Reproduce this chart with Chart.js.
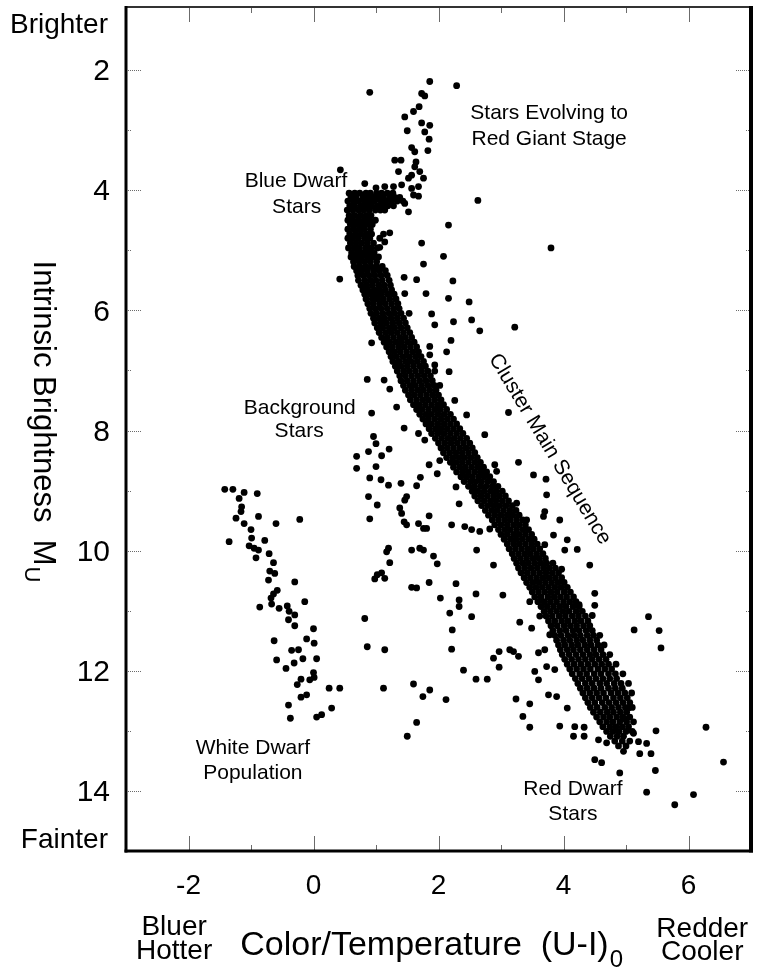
<!DOCTYPE html>
<html lang="en">
<head>
<meta charset="UTF-8">
<title>Cluster colour-magnitude diagram</title>
<script src="https://cdn.jsdelivr.net/npm/chart.js"></script>
<style>
  html, body { margin: 0; padding: 0; background: #fff; }
  #hr { display: block; }
</style>
</head>
<body>
<canvas id="hr" width="764" height="969"></canvas>
<script>
// values: x = colour (U-I)0, y = intrinsic brightness M_U
const xTickValues = [-2, 0, 2, 4, 6];
const yTickValues = [2, 4, 6, 8, 10, 12, 14];
const xMinorTicks = [-1, 1, 3, 5];
const yMinorTicks = [3, 5, 7, 9, 11, 13];

// the dense cluster main sequence, one row of colours per magnitude step
const mainSequenceRows = [
  [4.05, [0.57, 0.66, 0.74, 0.84, 0.91, 1.01, 1.09, 1.18, 1.27]],
  [4.12, [0.60, 0.68, 0.79, 0.87, 0.96, 1.05, 1.12, 1.22, 1.30, 1.38]],
  [4.18, [0.55, 0.64, 0.72, 0.81, 0.90, 0.98, 1.08, 1.16, 1.25, 1.34, 1.43]],
  [4.26, [0.58, 0.66, 0.76, 0.85, 0.93, 1.02, 1.11, 1.19, 1.28]],
  [4.33, [0.54, 0.63, 0.72, 0.80, 0.89, 0.99, 1.07, 1.14]],
  [4.42, [0.57, 0.66, 0.75, 0.84, 0.92]],
  [4.50, [0.55, 0.63, 0.72, 0.81, 0.90, 0.99]],
  [4.57, [0.59, 0.68, 0.77, 0.86, 0.94]],
  [4.65, [0.55, 0.64, 0.73, 0.81, 0.91]],
  [4.73, [0.58, 0.67, 0.76, 0.85, 0.93, 1.12]],
  [4.80, [0.55, 0.63, 0.72, 0.82, 0.90, 1.06]],
  [4.88, [0.59, 0.68, 0.77, 0.86, 0.96]],
  [4.96, [0.56, 0.65, 0.73, 0.83, 0.92, 1.02]],
  [5.04, [0.61, 0.70, 0.79, 0.88, 0.97]],
  [5.11, [0.60, 0.68, 0.77, 0.86, 0.95, 1.04]],
  [5.19, [0.64, 0.73, 0.82, 0.91, 1.01]],
  [5.27, [0.65, 0.74, 0.83, 0.92, 1.01, 1.10]],
  [5.34, [0.69, 0.77, 0.86, 0.96, 1.05, 1.15]],
  [5.42, [0.71, 0.80, 0.89, 0.98, 1.08, 1.18]],
  [5.50, [0.72, 0.82, 0.91, 1.00, 1.10, 1.21]],
  [5.58, [0.76, 0.85, 0.94, 1.04, 1.13, 1.23]],
  [5.66, [0.79, 0.87, 0.97, 1.06, 1.15, 1.25]],
  [5.73, [0.82, 0.91, 1.00, 1.09, 1.19, 1.29]],
  [5.81, [0.84, 0.94, 1.03, 1.12, 1.22, 1.32]],
  [5.89, [0.87, 0.96, 1.06, 1.15, 1.25, 1.35]],
  [5.97, [0.90, 0.99, 1.08, 1.18, 1.28, 1.37]],
  [6.05, [0.92, 1.01, 1.11, 1.21, 1.30, 1.40]],
  [6.13, [0.96, 1.05, 1.14, 1.24, 1.34, 1.44]],
  [6.21, [0.98, 1.08, 1.17, 1.27, 1.37, 1.47]],
  [6.29, [1.02, 1.11, 1.21, 1.30, 1.40, 1.50]],
  [6.37, [1.05, 1.15, 1.24, 1.34, 1.44, 1.54]],
  [6.45, [1.09, 1.18, 1.28, 1.38, 1.47, 1.57]],
  [6.53, [1.13, 1.22, 1.32, 1.41, 1.51, 1.61]],
  [6.61, [1.17, 1.26, 1.36, 1.45, 1.55, 1.65]],
  [6.69, [1.21, 1.30, 1.39, 1.49, 1.59, 1.68]],
  [6.77, [1.24, 1.33, 1.43, 1.53, 1.63, 1.72]],
  [6.85, [1.27, 1.37, 1.47, 1.56, 1.66, 1.76]],
  [6.93, [1.31, 1.40, 1.50, 1.60, 1.70, 1.79]],
  [7.01, [1.34, 1.44, 1.53, 1.63, 1.73, 1.83, 1.94]],
  [7.09, [1.38, 1.47, 1.57, 1.67, 1.77, 1.87]],
  [7.17, [1.40, 1.50, 1.60, 1.70, 1.80, 1.90]],
  [7.25, [1.44, 1.54, 1.63, 1.73, 1.83, 1.93, 2.02]],
  [7.33, [1.47, 1.57, 1.67, 1.76, 1.86, 1.96]],
  [7.41, [1.52, 1.61, 1.71, 1.81, 1.91, 2.00]],
  [7.49, [1.55, 1.65, 1.75, 1.84, 1.94, 2.04]],
  [7.57, [1.60, 1.69, 1.79, 1.89, 1.99, 2.08]],
  [7.65, [1.65, 1.74, 1.84, 1.94, 2.03, 2.13]],
  [7.73, [1.70, 1.80, 1.89, 1.99, 2.09, 2.19]],
  [7.81, [1.75, 1.84, 1.94, 2.04, 2.14, 2.24]],
  [7.89, [1.80, 1.89, 1.99, 2.09, 2.19, 2.29]],
  [7.97, [1.85, 1.95, 2.04, 2.14, 2.24, 2.34]],
  [8.05, [1.89, 1.99, 2.09, 2.19, 2.29, 2.39]],
  [8.13, [1.95, 2.05, 2.15, 2.25, 2.35, 2.45]],
  [8.21, [2.00, 2.10, 2.20, 2.30, 2.40, 2.50]],
  [8.29, [2.04, 2.14, 2.24, 2.34, 2.44, 2.54]],
  [8.37, [2.08, 2.18, 2.28, 2.38, 2.48, 2.58]],
  [8.45, [2.13, 2.23, 2.33, 2.42, 2.52, 2.62]],
  [8.53, [2.19, 2.28, 2.38, 2.48, 2.58, 2.67]],
  [8.61, [2.24, 2.34, 2.43, 2.53, 2.63, 2.72]],
  [8.69, [2.29, 2.39, 2.48, 2.58, 2.68, 2.77]],
  [8.77, [2.36, 2.45, 2.54, 2.64, 2.73, 2.82]],
  [8.85, [2.41, 2.51, 2.60, 2.69, 2.79, 2.88]],
  [8.93, [2.48, 2.57, 2.67, 2.76, 2.86, 2.95]],
  [9.01, [2.54, 2.63, 2.73, 2.83, 2.92, 3.02]],
  [9.09, [2.58, 2.68, 2.78, 2.88, 2.97, 3.07]],
  [9.17, [2.63, 2.73, 2.83, 2.92, 3.02, 3.12]],
  [9.25, [2.69, 2.79, 2.89, 2.98, 3.08, 3.18]],
  [9.33, [2.75, 2.85, 2.94, 3.04, 3.14, 3.24]],
  [9.41, [2.80, 2.90, 3.00, 3.10, 3.19, 3.29]],
  [9.49, [2.86, 2.96, 3.06, 3.15, 3.25, 3.35]],
  [9.57, [2.90, 3.00, 3.10, 3.20, 3.29, 3.39]],
  [9.65, [2.96, 3.06, 3.15, 3.25, 3.35, 3.44]],
  [9.73, [3.00, 3.10, 3.20, 3.29, 3.39, 3.49]],
  [9.81, [3.05, 3.15, 3.24, 3.34, 3.44, 3.53]],
  [9.89, [3.10, 3.20, 3.29, 3.39, 3.49, 3.58]],
  [9.97, [3.13, 3.23, 3.33, 3.43, 3.52, 3.62]],
  [10.05, [3.18, 3.28, 3.38, 3.47, 3.57, 3.67]],
  [10.13, [3.21, 3.31, 3.41, 3.51, 3.61, 3.71]],
  [10.21, [3.25, 3.35, 3.44, 3.54, 3.64, 3.73, 3.83]],
  [10.29, [3.28, 3.38, 3.48, 3.58, 3.68, 3.77, 3.87]],
  [10.37, [3.32, 3.42, 3.52, 3.62, 3.72, 3.82, 3.92]],
  [10.45, [3.37, 3.47, 3.57, 3.67, 3.77, 3.87, 3.97]],
  [10.53, [3.41, 3.51, 3.61, 3.71, 3.81, 3.91, 4.01]],
  [10.61, [3.46, 3.56, 3.66, 3.76, 3.86, 3.96, 4.06]],
  [10.69, [3.50, 3.60, 3.70, 3.80, 3.90, 4.01, 4.11]],
  [10.77, [3.54, 3.64, 3.75, 3.85, 3.95, 4.05, 4.16]],
  [10.85, [3.59, 3.69, 3.79, 3.89, 4.00, 4.10, 4.20]],
  [10.93, [3.64, 3.74, 3.84, 3.94, 4.04, 4.15, 4.25]],
  [11.01, [3.69, 3.79, 3.89, 3.99, 4.09, 4.20, 4.30]],
  [11.09, [3.72, 3.82, 3.93, 4.03, 4.14, 4.24, 4.35]],
  [11.17, [3.76, 3.86, 3.97, 4.07, 4.18, 4.28, 4.39]],
  [11.25, [3.80, 3.90, 4.01, 4.11, 4.21, 4.32, 4.42]],
  [11.33, [3.83, 3.94, 4.04, 4.15, 4.25, 4.36, 4.46]],
  [11.41, [3.86, 3.96, 4.07, 4.17, 4.27, 4.38, 4.48, 4.58]],
  [11.49, [3.89, 4.00, 4.10, 4.21, 4.31, 4.42, 4.53]],
  [11.57, [3.92, 4.02, 4.13, 4.23, 4.34, 4.44, 4.55, 4.65]],
  [11.65, [3.95, 4.06, 4.16, 4.27, 4.38, 4.49, 4.60]],
  [11.73, [3.98, 4.09, 4.20, 4.31, 4.42, 4.52, 4.63, 4.74]],
  [11.81, [4.02, 4.13, 4.24, 4.35, 4.46, 4.57, 4.68]],
  [11.89, [4.06, 4.17, 4.28, 4.39, 4.50, 4.61, 4.72, 4.84]],
  [11.97, [4.10, 4.21, 4.32, 4.43, 4.55, 4.66, 4.77]],
  [12.05, [4.14, 4.26, 4.37, 4.49, 4.60, 4.72, 4.83, 4.95]],
  [12.13, [4.19, 4.30, 4.41, 4.52, 4.63, 4.74, 4.85]],
  [12.21, [4.23, 4.35, 4.46, 4.58, 4.69, 4.81, 4.92, 5.04]],
  [12.29, [4.27, 4.38, 4.49, 4.60, 4.72, 4.83, 4.94]],
  [12.37, [4.31, 4.42, 4.53, 4.64, 4.76, 4.87, 4.98, 5.09]],
  [12.45, [4.35, 4.46, 4.57, 4.68, 4.80, 4.91, 5.02]],
  [12.53, [4.39, 4.50, 4.62, 4.73, 4.84, 4.95, 5.06]],
  [12.61, [4.43, 4.54, 4.66, 4.77, 4.88, 4.99, 5.10]],
  [12.69, [4.48, 4.59, 4.70, 4.80, 4.91, 5.01]],
  [12.77, [4.53, 4.64, 4.74, 4.85, 4.95, 5.06]],
  [12.85, [4.58, 4.69, 4.79, 4.90, 5.01, 5.12]],
  [12.93, [4.63, 4.74, 4.84, 4.94, 5.04]],
  [13.01, [4.69, 4.79, 4.89, 5.00, 5.10]],
  [13.09, [4.75, 4.86, 4.96]],
  [13.17, [4.82, 4.94, 5.06]],
  [13.25, [4.88, 5.00]]
];

// turn-off hook and stars evolving towards the red giant stage
const giantBranch = [
  [1.86, 2.19], [1.73, 2.39], [1.78, 2.43], [1.69, 2.61], [1.60, 2.69], [1.46, 2.78],
  [1.73, 2.88], [1.86, 2.92], [1.50, 3.01], [1.78, 3.03], [1.85, 3.15], [1.57, 3.29],
  [1.83, 3.34], [1.62, 3.36], [1.30, 3.50], [1.40, 3.50], [1.64, 3.53], [1.62, 3.61],
  [1.36, 3.69], [1.70, 3.69], [1.57, 3.75], [1.52, 3.80], [1.76, 3.80], [0.82, 3.89],
  [1.41, 3.91], [1.00, 3.96], [1.14, 3.94], [1.28, 3.94], [1.68, 3.94], [1.57, 3.97],
  [1.60, 4.08], [1.68, 4.10], [1.46, 4.22], [1.52, 4.36], [1.22, 4.71], [1.14, 4.86],
  [1.06, 4.95]
];

// scattered background (field) stars
const fieldStars = [
  [0.90, 2.37], [2.29, 2.26], [0.43, 3.66], [2.63, 4.17], [3.80, 4.96], [2.16, 4.58],
  [1.73, 4.88], [2.08, 5.10], [1.76, 5.23], [0.42, 5.48], [1.45, 5.45], [1.65, 5.49],
  [2.23, 5.51], [1.46, 5.72], [1.80, 5.72], [2.16, 5.80], [2.49, 5.86], [1.53, 6.05],
  [1.89, 6.06], [2.53, 6.16], [2.24, 6.19], [1.94, 6.24], [3.22, 6.28], [2.66, 6.34],
  [2.20, 6.50], [0.93, 6.54], [1.86, 6.60], [2.13, 6.69], [1.86, 6.74], [1.94, 6.91],
  [2.17, 7.02], [0.86, 7.15], [1.13, 7.16], [1.22, 7.31], [2.26, 7.50], [1.33, 7.61],
  [3.12, 7.70], [0.93, 7.71], [2.45, 7.74], [1.45, 7.96], [1.68, 8.05], [2.74, 8.07],
  [0.96, 8.10], [1.78, 8.16], [1.00, 8.22], [1.21, 8.31], [0.88, 8.35], [1.09, 8.42],
  [0.69, 8.43], [2.02, 8.50], [3.28, 8.53], [1.85, 8.57], [2.90, 8.57], [1.00, 8.60],
  [0.69, 8.63], [2.93, 8.68], [1.98, 8.72], [3.52, 8.74], [1.71, 8.78], [0.90, 8.79],
  [3.72, 8.81], [1.08, 8.82], [1.40, 8.88], [1.20, 8.91], [1.65, 8.92], [2.28, 8.94],
  [3.73, 9.07], [0.88, 9.10], [1.49, 9.10], [1.46, 9.16], [3.25, 9.21], [2.33, 9.22],
  [1.02, 9.24], [1.38, 9.29], [3.70, 9.35], [1.41, 9.38], [1.85, 9.42], [3.68, 9.43],
  [0.90, 9.47], [3.41, 9.49], [3.94, 9.49], [1.45, 9.52], [1.68, 9.55], [1.49, 9.57],
  [2.21, 9.57], [2.42, 9.60], [1.76, 9.63], [1.81, 9.63], [2.82, 9.64], [2.53, 9.65],
  [2.66, 9.68], [3.84, 9.74], [4.06, 9.82], [3.70, 9.90], [1.20, 9.96], [1.70, 9.96],
  [4.22, 9.98], [1.57, 9.99], [1.76, 9.99], [2.61, 9.99], [4.02, 9.99], [1.17, 10.02],
  [1.92, 10.09], [1.22, 10.20], [1.98, 10.22], [2.88, 10.24], [4.42, 10.24], [3.97, 10.31],
  [1.09, 10.37], [1.02, 10.40], [1.14, 10.46], [0.98, 10.47], [1.85, 10.53], [2.28, 10.55],
  [1.57, 10.61], [1.65, 10.62], [4.50, 10.71], [2.60, 10.72], [3.03, 10.74], [2.03, 10.79],
  [2.33, 10.82], [3.46, 10.85], [4.25, 10.90], [4.50, 10.91], [2.33, 10.93], [2.18, 11.04],
  [4.46, 11.08], [3.62, 11.09], [2.53, 11.10], [5.36, 11.10], [0.82, 11.13], [3.30, 11.19],
  [3.49, 11.29], [5.13, 11.32], [2.22, 11.32], [5.53, 11.33], [3.78, 11.40], [0.86, 11.60],
  [5.56, 11.62], [2.21, 11.64], [1.14, 11.65], [3.14, 11.65], [3.70, 11.65], [3.20, 11.68],
  [2.97, 11.68], [3.60, 11.70], [3.28, 11.76], [2.88, 11.79], [3.73, 11.93], [2.97, 11.94],
  [3.86, 11.98], [2.40, 11.99], [3.54, 12.01], [2.60, 12.14], [2.78, 12.14], [3.60, 12.15],
  [1.60, 12.22], [1.12, 12.29], [1.86, 12.32], [3.76, 12.40], [1.75, 12.43], [3.89, 12.43],
  [3.24, 12.47], [2.12, 12.48], [3.46, 12.55], [4.06, 12.62], [5.04, 12.62], [3.35, 12.76],
  [4.98, 12.80], [1.65, 12.86], [3.94, 12.92], [4.18, 12.93], [3.46, 12.94], [4.33, 12.94],
  [6.28, 12.94], [5.48, 13.00], [5.12, 13.04], [1.50, 13.09], [4.16, 13.09], [4.33, 13.09],
  [4.56, 13.15], [5.20, 13.18], [4.69, 13.20], [5.33, 13.21], [4.96, 13.34], [5.22, 13.38],
  [5.40, 13.38], [4.50, 13.48], [6.56, 13.52], [4.61, 13.53], [5.47, 13.66], [4.90, 13.70],
  [5.33, 14.02], [6.08, 14.06], [5.78, 14.23]
];

// white dwarf population on the blue side
const whiteDwarfs = [
  [-1.42, 8.98], [-1.29, 8.98], [-1.11, 9.03], [-0.90, 9.05], [-1.19, 9.13], [-1.15, 9.27],
  [-1.16, 9.35], [-0.88, 9.43], [-1.24, 9.46], [-0.22, 9.48], [-1.11, 9.55], [-0.60, 9.55],
  [-1.00, 9.65], [-0.99, 9.79], [-0.78, 9.83], [-1.35, 9.85], [-1.03, 9.92], [-0.95, 9.96],
  [-0.88, 9.99], [-0.71, 10.05], [-0.92, 10.12], [-0.64, 10.20], [-0.70, 10.34], [-0.62, 10.38],
  [-0.72, 10.49], [-0.30, 10.52], [-0.58, 10.66], [-0.64, 10.72], [-0.68, 10.79], [-0.14, 10.85],
  [-0.67, 10.89], [-0.42, 10.92], [-0.86, 10.94], [-0.55, 10.96], [-0.39, 11.01], [-0.30, 11.07],
  [-0.40, 11.15], [-0.30, 11.25], [0.00, 11.30], [-0.11, 11.47], [-0.63, 11.50], [0.01, 11.54],
  [-0.24, 11.65], [-0.35, 11.66], [-0.17, 11.80], [0.05, 11.80], [-0.59, 11.82], [-0.31, 11.87],
  [-0.44, 11.96], [0.00, 12.03], [0.01, 12.11], [-0.20, 12.14], [-0.06, 12.15], [-0.26, 12.23],
  [0.25, 12.29], [0.42, 12.29], [-0.11, 12.40], [-0.20, 12.44], [-0.40, 12.57], [0.29, 12.62],
  [0.13, 12.73], [0.05, 12.77], [-0.37, 12.79]
];

// labels placed in data coordinates
const notes = [
  { text: 'Stars Evolving to', x: 3.77, y: 2.71 },
  { text: 'Red Giant Stage', x: 3.77, y: 3.15 },
  { text: 'Blue Dwarf', x: -0.28, y: 3.85 },
  { text: 'Stars', x: -0.27, y: 4.29 },
  { text: 'Background', x: -0.22, y: 7.63 },
  { text: 'Stars', x: -0.23, y: 8.01 },
  { text: 'White Dwarf', x: -0.97, y: 13.29 },
  { text: 'Population', x: -0.97, y: 13.70 },
  { text: 'Red Dwarf', x: 4.15, y: 13.97 },
  { text: 'Stars', x: 4.15, y: 14.38 },
  { text: 'Cluster Main Sequence', x: 3.78, y: 8.31, angle: 59 }
];

const FONT = "'Liberation Sans', Arial, Helvetica, sans-serif";
Chart.defaults.font.family = FONT;
Chart.defaults.color = '#000';

const toPoints = list => list.map(([x, y]) => ({ x, y }));
const mainSequence = [];
mainSequenceRows.forEach(([y, xs]) => xs.forEach(x => mainSequence.push({ x, y })));

// frame, inward ticks and all the text around the plot
const decorations = {
  id: 'decorations',
  afterDraw(chart) {
    const { ctx, chartArea: a, scales: { x, y } } = chart;
    ctx.save();

    const seg = (x1, y1, x2, y2) => { ctx.beginPath(); ctx.moveTo(x1, y1); ctx.lineTo(x2, y2); ctx.stroke(); };
    ctx.strokeStyle = '#6b6b6b';
    ctx.lineWidth = 1;
    const xt = (v, len) => {
      const p = Math.round(x.getPixelForValue(v)) + 0.5;
      seg(p, a.bottom, p, a.bottom - len);
      seg(p, a.top, p, a.top + len);
    };
    const yt = (v, len) => {
      const p = Math.round(y.getPixelForValue(v)) + 0.5;
      seg(a.left, p, a.left + len, p);
      seg(a.right, p, a.right - len, p);
    };
    xTickValues.forEach(v => xt(v, 15));
    xMinorTicks.forEach(v => xt(v, 6));
    ctx.setLineDash([1, 1]);
    yTickValues.forEach(v => yt(v, 16));
    yMinorTicks.forEach(v => yt(v, 5));
    ctx.setLineDash([]);

    // box
    ctx.strokeStyle = '#333';
    ctx.lineWidth = 2;
    seg(a.left, a.top, a.right, a.top);
    ctx.strokeStyle = '#000';
    ctx.lineWidth = 3;
    seg(a.left, a.top - 1, a.left, a.bottom + 1.5);
    seg(a.left - 1.5, a.bottom, a.right + 2, a.bottom);
    ctx.lineWidth = 4;
    seg(a.right, a.top - 1, a.right, a.bottom + 1.5);

    ctx.fillStyle = '#000';

    // annotations inside the plot
    ctx.font = `21px ${FONT}`;
    ctx.textAlign = 'center';
    ctx.textBaseline = 'middle';
    notes.forEach(n => {
      const px = x.getPixelForValue(n.x), py = y.getPixelForValue(n.y);
      if (n.angle) {
        ctx.save();
        ctx.translate(px, py);
        ctx.rotate(n.angle * Math.PI / 180);
        ctx.fillText(n.text, 0, 0);
        ctx.restore();
      } else {
        ctx.fillText(n.text, px, py);
      }
    });

    // brighter / fainter at the ends of the y axis
    ctx.font = `28px ${FONT}`;
    ctx.textBaseline = 'alphabetic';
    ctx.textAlign = 'right';
    ctx.fillText('Brighter', a.left - 18, a.top + 26);
    ctx.fillText('Fainter', a.left - 18, a.bottom - 3);

    // bluer / redder under the x axis
    ctx.textAlign = 'center';
    const bx = x.getPixelForValue(-2.23), rx = x.getPixelForValue(6.22);
    ctx.fillText('Bluer', bx, a.bottom + 84);
    ctx.fillText('Hotter', bx, a.bottom + 108);
    ctx.fillText('Redder', rx, a.bottom + 86);
    ctx.fillText('Cooler', rx, a.bottom + 109);

    // x axis title with subscript
    const xMain = 'Color/Temperature  (U-I)', xSub = '0';
    ctx.font = `34px ${FONT}`;
    const wMain = ctx.measureText(xMain).width;
    ctx.font = `24px ${FONT}`;
    const wSub = ctx.measureText(xSub).width;
    const sx = x.getPixelForValue(1.89) - (wMain + wSub + 1) / 2;
    ctx.textAlign = 'left';
    ctx.font = `34px ${FONT}`;
    ctx.fillText(xMain, sx, a.bottom + 104);
    ctx.font = `24px ${FONT}`;
    ctx.fillText(xSub, sx + wMain + 1, a.bottom + 116);

    // y axis title, reading downwards, with subscript
    const yMain = 'Intrinsic Brightness  M', ySub = 'U';
    ctx.font = `31px ${FONT}`;
    const hMain = ctx.measureText(yMain).width;
    ctx.font = `22px ${FONT}`;
    const hSub = ctx.measureText(ySub).width;
    ctx.translate(a.left - 81, y.getPixelForValue(7.85));
    ctx.rotate(Math.PI / 2);
    const sy = -(hMain + hSub + 1) / 2;
    ctx.font = `31px ${FONT}`;
    ctx.fillText(yMain, sy, 11);
    ctx.font = `22px ${FONT}`;
    ctx.fillText(ySub, sy + hMain + 1, 20);

    ctx.restore();
  }
};

const dot = { backgroundColor: '#000', borderWidth: 0, pointRadius: 3.4, pointHoverRadius: 3.4 };

new Chart(document.getElementById('hr'), {
  type: 'scatter',
  data: {
    datasets: [
      { label: 'Cluster main sequence', data: mainSequence, ...dot },
      { label: 'Evolving to red giants', data: toPoints(giantBranch), ...dot },
      { label: 'Background stars', data: toPoints(fieldStars), ...dot },
      { label: 'White dwarfs', data: toPoints(whiteDwarfs), ...dot }
    ]
  },
  options: {
    responsive: false,
    animation: false,
    devicePixelRatio: 1,
    events: [],
    layout: { padding: { top: 7, right: 13, bottom: 0, left: 0 } },
    plugins: { legend: { display: false }, tooltip: { enabled: false } },
    scales: {
      x: {
        type: 'linear',
        min: -3,
        max: 7,
        grid: { display: false, drawTicks: false },
        border: { display: false },
        afterBuildTicks: s => { s.ticks = xTickValues.map(v => ({ value: v })); },
        afterFit: s => { s.height = 118; s.paddingLeft = 0; s.paddingRight = 0; },
        ticks: { font: { size: 28 }, color: '#000', padding: 18, maxRotation: 0, autoSkip: false, callback: v => String(v) }
      },
      y: {
        type: 'linear',
        reverse: true,
        min: 0.95,
        max: 15,
        grid: { display: false, drawTicks: false },
        border: { display: false },
        afterBuildTicks: s => { s.ticks = yTickValues.map(v => ({ value: v })); },
        afterFit: s => { s.width = 126; s.paddingTop = 0; s.paddingBottom = 0; },
        ticks: { font: { size: 30 }, color: '#000', padding: 16, labelOffset: 2, autoSkip: false, callback: v => String(v) }
      }
    }
  },
  plugins: [decorations]
});
</script>
</body>
</html>
